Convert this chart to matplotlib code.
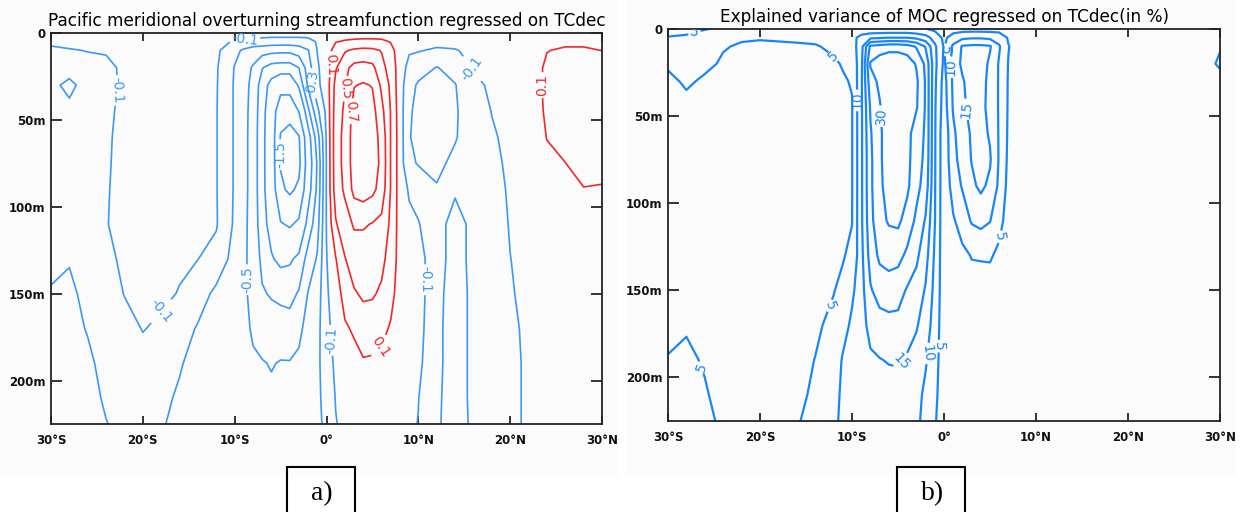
import numpy as np
import matplotlib.pyplot as plt
from matplotlib.patches import Rectangle

# model depth levels (m), shared by both sections
depths = [0, 5, 10, 20, 30, 45, 60, 75, 90, 110, 130, 150, 170, 190, 210, 225]

# streamfunction regression (Sv per unit TCdec), one depth profile per latitude
moc_lats = [-30, -28, -26, -24, -22, -20, -18, -16, -14, -12, -10, -9, -8, -7, -6, -5, -4, -3, -2, -1,
            0, 1, 2, 3, 4, 5, 6, 7, 8, 9, 10, 12, 14, 16, 18, 20, 22, 24, 26, 28, 30]
moc_profiles = [
    [0, -0.07, -0.13, -0.2, -0.24, -0.22, -0.2, -0.2, -0.21, -0.23, -0.27, -0.31, -0.34, -0.36, -0.37, -0.38],
    [0, -0.06, -0.11, -0.2, -0.36, -0.24, -0.2, -0.2, -0.21, -0.24, -0.29, -0.33, -0.35, -0.36, -0.37, -0.37],
    [0, -0.05, -0.095, -0.15, -0.2, -0.2, -0.2, -0.2, -0.21, -0.22, -0.24, -0.26, -0.29, -0.33, -0.35, -0.36],
    [0, -0.04, -0.085, -0.14, -0.15, -0.13, -0.12, -0.115, -0.11, -0.105, -0.125, -0.16, -0.21, -0.25, -0.28, -0.305],
    [0, -0.03, -0.05, -0.07, -0.07, -0.065, -0.06, -0.06, -0.06, -0.065, -0.08, -0.096, -0.14, -0.2, -0.24, -0.26],
    [0, -0.02, -0.04, -0.05, -0.05, -0.05, -0.05, -0.05, -0.05, -0.055, -0.06, -0.07, -0.095, -0.14, -0.18, -0.21],
    [0, -0.02, -0.04, -0.05, -0.05, -0.05, -0.05, -0.05, -0.055, -0.06, -0.07, -0.08, -0.12, -0.19, -0.25, -0.28],
    [0, -0.03, -0.05, -0.06, -0.06, -0.06, -0.06, -0.065, -0.07, -0.075, -0.085, -0.105, -0.2, -0.28, -0.33, -0.36],
    [0, -0.03, -0.05, -0.06, -0.06, -0.06, -0.065, -0.07, -0.075, -0.085, -0.098, -0.2, -0.32, -0.38, -0.4, -0.41],
    [0, -0.04, -0.06, -0.08, -0.085, -0.09, -0.09, -0.09, -0.09, -0.085, -0.16, -0.35, -0.4, -0.42, -0.42, -0.42],
    [0, -0.12, -0.25, -0.31, -0.32, -0.32, -0.32, -0.32, -0.32, -0.33, -0.38, -0.42, -0.44, -0.45, -0.45, -0.45],
    [0, -0.14, -0.33, -0.42, -0.44, -0.45, -0.45, -0.45, -0.45, -0.46, -0.47, -0.47, -0.46, -0.45, -0.44, -0.43],
    [0, -0.16, -0.4, -0.52, -0.55, -0.56, -0.57, -0.57, -0.57, -0.57, -0.56, -0.55, -0.52, -0.48, -0.46, -0.44],
    [0, -0.18, -0.42, -0.69, -0.8, -0.84, -0.85, -0.85, -0.85, -0.82, -0.75, -0.68, -0.58, -0.49, -0.46, -0.44],
    [0, -0.2, -0.44, -0.78, -0.97, -1.02, -1.03, -1.03, -1.02, -0.98, -0.88, -0.72, -0.6, -0.51, -0.47, -0.45],
    [0, -0.2, -0.45, -0.8, -1.08, -1.4, -1.52, -1.52, -1.45, -1.18, -0.95, -0.75, -0.6, -0.49, -0.45, -0.43],
    [0, -0.2, -0.45, -0.8, -1.08, -1.4, -1.6, -1.66, -1.55, -1.23, -0.93, -0.76, -0.62, -0.49, -0.44, -0.42],
    [0, -0.2, -0.4, -0.7, -0.87, -1.19, -1.52, -1.57, -1.45, -1.15, -0.85, -0.68, -0.55, -0.46, -0.4, -0.38],
    [0, -0.18, -0.31, -0.4, -0.46, -0.75, -1.0, -1.05, -1.0, -0.82, -0.62, -0.49, -0.42, -0.38, -0.36, -0.35],
    [0, -0.08, -0.095, -0.12, -0.14, -0.35, -0.6, -0.68, -0.66, -0.58, -0.48, -0.4, -0.36, -0.34, -0.33, -0.32],
    [0, -0.02, -0.02, -0.02, -0.01, -0.05, -0.08, -0.09, -0.085, -0.09, -0.11, -0.13, -0.16, -0.2, -0.25, -0.28],
    [0, 0.09, 0.2, 0.28, 0.36, 0.4, 0.42, 0.42, 0.4, 0.28, 0.09, 0.02, -0.02, -0.06, -0.09, -0.11],
    [0, 0.12, 0.28, 0.45, 0.49, 0.53, 0.55, 0.55, 0.53, 0.42, 0.29, 0.16, 0.08, 0.02, -0.02, -0.05],
    [0, 0.14, 0.33, 0.56, 0.69, 0.78, 0.8, 0.8, 0.76, 0.52, 0.4, 0.28, 0.12, 0.05, 0.0, -0.03],
    [0, 0.15, 0.35, 0.58, 0.72, 0.8, 0.83, 0.83, 0.8, 0.52, 0.4, 0.33, 0.2, 0.08, 0.02, 0.0],
    [0, 0.15, 0.34, 0.55, 0.69, 0.77, 0.79, 0.79, 0.75, 0.49, 0.38, 0.32, 0.2, 0.07, 0.01, 0.0],
    [0, 0.14, 0.29, 0.36, 0.46, 0.56, 0.64, 0.66, 0.62, 0.45, 0.35, 0.27, 0.15, 0.05, 0.0, -0.01],
    [0, 0.09, 0.15, 0.22, 0.26, 0.29, 0.29, 0.29, 0.29, 0.26, 0.22, 0.16, 0.08, 0.02, -0.01, -0.02],
    [0, 0.02, 0.02, 0.0, -0.02, -0.01, 0.0, 0.0, 0.0, 0.01, 0.02, 0.01, -0.01, -0.02, -0.04, -0.05],
    [0, -0.04, -0.08, -0.16, -0.22, -0.27, -0.29, -0.27, -0.12, -0.06, -0.03, -0.02, -0.03, -0.04, -0.05, -0.07],
    [0, -0.05, -0.09, -0.2, -0.33, -0.36, -0.35, -0.31, -0.2, -0.085, 0.0, 0.0, -0.02, -0.05, -0.095, -0.105],
    [0, -0.06, -0.12, -0.31, -0.36, -0.38, -0.37, -0.33, -0.29, -0.27, -0.27, -0.275, -0.28, -0.28, -0.285, -0.285],
    [0, -0.05, -0.11, -0.22, -0.31, -0.32, -0.31, -0.27, -0.29, -0.33, -0.33, -0.34, -0.34, -0.34, -0.34, -0.35],
    [0, -0.04, -0.06, -0.09, -0.13, -0.2, -0.23, -0.25, -0.27, -0.28, -0.28, -0.28, -0.28, -0.28, -0.28, -0.28],
    [0, -0.02, -0.04, -0.06, -0.08, -0.095, -0.12, -0.14, -0.16, -0.18, -0.19, -0.2, -0.2, -0.2, -0.2, -0.2],
    [0, -0.01, -0.02, -0.03, -0.04, -0.05, -0.06, -0.07, -0.08, -0.09, -0.102, -0.11, -0.12, -0.13, -0.13, -0.13],
    [0, 0.0, 0.0, 0.0, -0.01, -0.02, -0.03, -0.03, -0.04, -0.05, -0.06, -0.07, -0.08, -0.08, -0.08, -0.08],
    [0, 0.06, 0.095, 0.13, 0.14, 0.13, 0.105, 0.06, 0.03, 0.01, 0.0, -0.01, -0.02, -0.03, -0.03, -0.03],
    [0, 0.07, 0.12, 0.16, 0.18, 0.18, 0.15, 0.098, 0.06, 0.03, 0.01, 0.0, -0.01, -0.01, -0.02, -0.02],
    [0, 0.07, 0.12, 0.17, 0.2, 0.21, 0.19, 0.15, 0.095, 0.05, 0.02, 0.01, 0.0, 0.0, -0.01, -0.01],
    [0, 0.05, 0.098, 0.16, 0.19, 0.2, 0.18, 0.14, 0.09, 0.05, 0.02, 0.01, 0.0, 0.0, 0.0, 0.0],
]
moc_levels = [-1.5, -1.2, -0.9, -0.7, -0.5, -0.3, -0.1, 0.1, 0.3, 0.5, 0.7]

# explained variance (%), one depth profile per latitude
var_lats = [-30, -28, -26, -24, -22, -20, -18, -16, -14, -12, -11, -10, -9, -8, -7, -6, -5, -4, -3, -2, -1,
            0, 1, 2, 3, 4, 5, 6, 7, 8, 10, 14, 18, 22, 26, 28, 30]
var_profiles = [
    [3, 5.3, 6, 5.5, 4.2, 3, 2.5, 2.5, 2.8, 3.2, 3.6, 4, 4.5, 5.1, 5.8, 6.3],
    [4, 5.5, 6.3, 6, 5.5, 4, 3, 2.5, 2.8, 3.3, 3.8, 4.3, 4.8, 5.4, 6, 6.5],
    [4.9, 6, 6.2, 5.7, 4.5, 3.5, 3, 2.6, 2.6, 3, 3.5, 4, 4.4, 4.8, 5.2, 5.4],
    [5.3, 5.4, 5.2, 4.6, 4, 3.5, 3, 2.7, 2.6, 2.7, 2.9, 3.2, 3.5, 3.8, 4.3, 4.7],
    [5.4, 5.3, 4.7, 4, 3.5, 3, 2.7, 2.5, 2.4, 2.5, 2.7, 3, 3.2, 3.4, 3.6, 3.8],
    [5.5, 5.2, 4.5, 3.8, 3.3, 2.9, 2.6, 2.4, 2.4, 2.5, 2.7, 3, 3.2, 3.4, 3.6, 3.8],
    [5.6, 5.3, 4.6, 3.8, 3.3, 2.9, 2.7, 2.5, 2.5, 2.6, 2.8, 3.1, 3.4, 3.7, 4, 4.2],
    [5.8, 5.4, 4.7, 4, 3.5, 3.1, 2.9, 2.8, 2.8, 2.9, 3.1, 3.4, 3.8, 4.2, 4.6, 4.9],
    [6, 5.6, 4.8, 4.1, 3.7, 3.4, 3.2, 3.1, 3.2, 3.4, 3.7, 4.1, 4.6, 5.05, 5.3, 5.4],
    [6.5, 7, 5.5, 4.6, 4.2, 4, 3.9, 3.9, 4, 4.2, 4.5, 4.9, 5.6, 7, 8.2, 8.8],
    [7, 9, 7, 5.2, 4.7, 4.5, 4.4, 4.4, 4.5, 4.6, 4.8, 5.6, 8, 10.5, 11, 11.2],
    [7, 8, 7.5, 6, 5.2, 4.8, 4.8, 4.8, 4.8, 4.9, 5.6, 9, 11, 11.5, 11.8, 12],
    [6, 12, 13, 13.5, 14, 14, 14, 14, 14, 14, 13.5, 13, 12.5, 12.2, 12, 12],
    [6, 14, 26, 30.5, 28, 25.5, 24.5, 24, 24, 23.5, 22, 19.5, 17, 14, 12.5, 12],
    [6, 14.5, 27, 33, 31, 29.5, 29, 29, 29, 28.5, 26, 22, 18, 14.8, 13, 12.5],
    [6, 15, 28, 34, 34, 33.5, 33, 33, 32, 30.5, 27, 22.5, 18.5, 15.3, 13, 12.5],
    [6, 15, 28, 34, 35, 35, 34.5, 34, 33, 31, 26.5, 22, 18.5, 15.5, 13, 12.5],
    [6, 15, 27, 33, 34, 33.5, 32, 31.5, 31, 28, 24, 19.5, 17, 14.5, 12.5, 12],
    [5.5, 14, 24.5, 29.5, 31, 30.5, 27, 27, 26.5, 24, 21, 18, 15.5, 13, 11.5, 11],
    [5.2, 12, 19.5, 24, 24.5, 24.5, 24.5, 24, 23, 19.5, 17, 14.5, 12.5, 10.5, 9, 8.5],
    [4, 8, 11, 11.5, 11, 10.6, 10.5, 10.5, 10.4, 10.2, 9.2, 8.5, 7.8, 7, 6.2, 5.5],
    [3, 4, 4.5, 4, 3, 2.5, 1.5, 1.5, 1.5, 1.5, 1.8, 2, 2, 2, 2, 2],
    [3, 7, 11, 12, 11, 10.5, 9, 8.5, 7, 4.5, 3, 2.5, 2, 2, 2, 2],
    [3, 9, 15.5, 16, 14.5, 14, 13, 12, 10.5, 7, 4, 3, 2.5, 2, 2, 2],
    [3, 9.5, 16, 17.5, 17, 16.5, 15.5, 15.2, 14, 10.5, 5.2, 3.5, 2.5, 2, 2, 2],
    [3, 9.5, 16, 17.5, 17, 16.5, 16.5, 16.5, 16, 11.5, 5.3, 3.5, 2.5, 2, 2, 2],
    [3, 9, 15.5, 14, 13.5, 13.5, 14.5, 15.5, 14, 10.2, 5.5, 3, 2.5, 2, 2, 2],
    [3, 8, 10.5, 9.5, 9.5, 9.5, 9.5, 9.5, 9, 6.5, 4, 2.5, 2, 2, 2, 2],
    [2.5, 4.5, 5.2, 4.8, 4.6, 4.5, 4.3, 4, 3.5, 3, 2.5, 2, 2, 2, 2, 2],
    [2, 3, 3.2, 3, 3, 3, 3, 2.8, 2.5, 2.3, 2, 2, 2, 2, 2, 2],
    [2, 2.5, 2.5, 2.5, 2.5, 2.5, 2.5, 2.3, 2.2, 2, 2, 2, 2, 2, 2, 2],
    [1.5, 2, 2, 2, 2, 2, 2, 2, 2, 2, 2, 2, 2, 2, 2, 2],
    [1.5, 2, 2, 2, 2, 2, 2, 2, 2, 2, 2, 2, 2, 2, 2, 2],
    [1.5, 2, 2, 2, 2, 2, 2, 2, 2, 2, 2, 2, 2, 2, 2, 2],
    [1.5, 2, 2.5, 3, 2.5, 2, 2, 2, 2, 2, 2, 2, 2, 2, 2, 2],
    [2, 3, 3.5, 3.8, 3.3, 2.5, 2, 2, 2, 2, 2, 2, 2, 2, 2, 2],
    [2, 3, 4.8, 5.4, 4, 3, 2.5, 2, 2, 2, 2, 2, 2, 2, 2, 2],
]
var_levels = [5, 10, 15, 20, 25, 30]

lat_ticks = [-30, -20, -10, 0, 10, 20, 30]
lat_labels = ["30°S", "20°S", "10°S", "0°", "10°N", "20°N", "30°N"]
depth_ticks = [0, 50, 100, 150, 200]
depth_labels = ["0", "50m", "100m", "150m", "200m"]

BLUE_A = "#3d98f4"
RED_A = "#f0282a"
BLUE_B = "#1a86f5"


def style_axes(ax, title):
    ax.set_facecolor("none")
    ax.set_xlim(-30, 30)
    ax.set_ylim(225, 0)
    ax.set_xticks(lat_ticks)
    ax.set_xticklabels(lat_labels)
    ax.set_yticks(depth_ticks)
    ax.set_yticklabels(depth_labels)
    ax.tick_params(axis="both", direction="in", top=True, right=True, width=1.2,
                   labelsize=8.5, colors="#111111")
    ax.tick_params(axis="x", length=6, pad=7)
    ax.tick_params(axis="y", length=8, pad=4)
    for lab in ax.get_xticklabels() + ax.get_yticklabels():
        lab.set_fontweight("bold")
    for spine in ax.spines.values():
        spine.set_linewidth(1.3)
        spine.set_color("#222222")
    ax.set_title(title, fontsize=12.2, pad=5)


def main():
    plt.rcParams["font.family"] = ["DejaVu Sans"]
    fig = plt.figure(figsize=(12.5, 5.12), dpi=100)

    # faint backdrop behind each exported panel
    for x0, x1 in [(0, 618), (625, 1236)]:
        fig.patches.append(Rectangle((x0 / 1250, 1 - 476 / 512), (x1 - x0) / 1250, 476 / 512,
                                     transform=fig.transFigure, facecolor="#fbfbfb",
                                     edgecolor="none", zorder=-1))

    # a) streamfunction regression
    ax = fig.add_axes([51 / 1250, 1 - 424 / 512, 551 / 1250, 391 / 512])
    psi = np.array(moc_profiles).T
    colors = [BLUE_A if lev < 0 else RED_A for lev in moc_levels]
    cs = ax.contour(moc_lats, depths, psi, levels=moc_levels, colors=colors,
                    linewidths=1.2, linestyles="solid")
    spots_a = [(-8.9, 3), (-22.8, 33), (-17.8, 161), (-1.5, 29), (-5.1, 70),
               (-8.65, 142), (0.2, 177), (0.5, 18), (2.0, 32), (2.7, 45),
               (6.2, 182), (15.6, 21), (11.0, 142), (23.3, 30)]
    ax.clabel(cs, levels=moc_levels, manual=spots_a, fmt="%.1f", fontsize=10,
              inline=True, inline_spacing=2)
    style_axes(ax, "Pacific meridional overturning streamfunction regressed on TCdec")

    # b) explained variance
    bx = fig.add_axes([668 / 1250, 1 - 421 / 512, 552 / 1250, 392 / 512])
    var = np.array(var_profiles).T
    cs2 = bx.contour(var_lats, depths, var, levels=var_levels, colors=BLUE_B,
                     linewidths=1.6, linestyles="solid")
    spots_b = [(-27.1, 2.5), (-11.5, 12), (-9.3, 41), (-6.7, 50), (-11.8, 160),
               (-4.95, 190), (-2.2, 186), (-0.7, 182), (0.0, 12), (0.7, 22),
               (2.6, 46), (5.8, 119), (-26.2, 194)]
    bx.clabel(cs2, levels=var_levels, manual=spots_b, fmt="%d", fontsize=10,
              inline=True, inline_spacing=2)
    style_axes(bx, "Explained variance of MOC regressed on TCdec(in %)")

    # panel tags under each section
    for x0, x1, tag in [(287, 355, "a)"), (897, 965, "b)")]:
        fig.patches.append(Rectangle((x0 / 1250, -0.05), (x1 - x0) / 1250, 0.05 + 45 / 512,
                                     transform=fig.transFigure, fill=False,
                                     edgecolor="black", linewidth=1.5))
        fig.text((x0 + x1) / 2 / 1250 + 0.001, 1 - 494 / 512, tag, ha="center", va="center",
                 fontsize=20, family="Liberation Serif")

    fig.savefig("out.png", dpi=100)


if __name__ == '__main__':
    main()
